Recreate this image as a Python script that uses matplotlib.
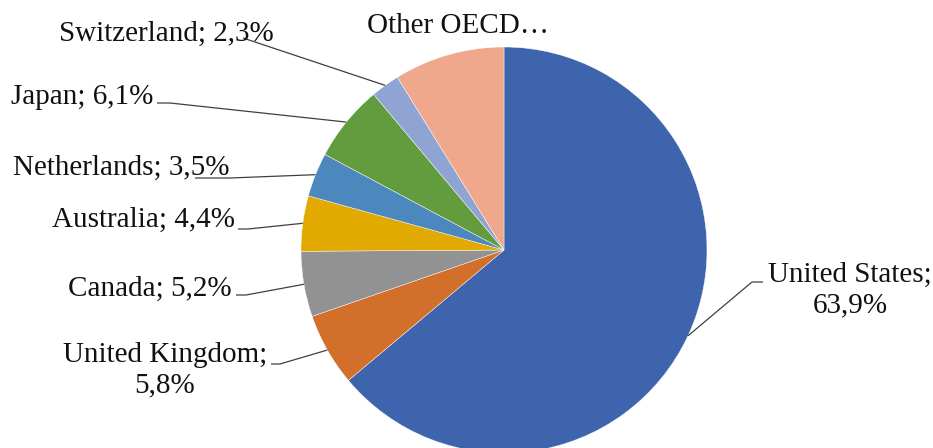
import numpy as np
import matplotlib
matplotlib.use("Agg")
import matplotlib.pyplot as plt

countries = ["United States", "United Kingdom", "Canada", "Australia",
             "Netherlands", "Japan", "Switzerland", "Other OECD"]
shares = [63.9, 5.8, 5.2, 4.4, 3.5, 6.1, 2.3, 8.8]
label_texts = ["United States;\n63,9%", "United Kingdom;\n5,8%", "Canada; 5,2%",
               "Australia; 4,4%", "Netherlands; 3,5%", "Japan; 6,1%",
               "Switzerland; 2,3%", "Other OECD…"]
colors = ["#3D64AD", "#D2702B", "#929292", "#E2AA00",
          "#4C88BE", "#639C3F", "#90A4D4", "#EFA88B"]

W, H = 933, 448
CX, CY, R = 504, 250, 203  # pie centre / radius in pixels


def px(x, y):
    # pixel position -> data units (pie radius = 1)
    return (x - CX) / R, (CY - y) / R


plt.rcParams['font.family'] = ['Liberation Serif', 'DejaVu Serif']

fig = plt.figure(figsize=(W / 100, H / 100), dpi=100)
ax = fig.add_axes([0, 0, 1, 1])
wedges, _ = ax.pie(shares, colors=colors, startangle=90, counterclock=False,
                   radius=1, center=(0, 0),
                   wedgeprops=dict(edgecolor="white", linewidth=0.3))
ax.set_xlim(-CX / R, (W - CX) / R)
ax.set_ylim(-(H - CY) / R, CY / R)
ax.set_aspect('equal')
ax.axis('off')

# label centre (px), leader start (px) with short horizontal tail, or None
label_pos = [
    ((850, 290), [(763, 282), (752, 282)]),
    ((165, 370), [(271, 364), (280, 364)]),
    ((150, 289), [(236, 295), (246, 295)]),
    ((143, 220), [(238, 229), (248, 229)]),
    ((121, 168), [(195, 178), (230, 178)]),
    ((82, 97), [(157, 103), (170, 103)]),
    ((166, 34), [(243, 38)]),
    ((458, 26), None),
]

for w, txt, (pos, lead) in zip(wedges, label_texts, label_pos):
    tx, ty = px(*pos)
    ax.text(tx, ty, txt, ha="center", va="center", fontsize=21,
            color="#111111", linespacing=1.2)
    if lead is None:
        continue
    mid = np.deg2rad((w.theta1 + w.theta2) / 2)
    pts = [px(*p) for p in lead] + [(np.cos(mid), np.sin(mid))]
    xs, ys = zip(*pts)
    ax.plot(xs, ys, color="#404040", lw=0.9, solid_capstyle="butt")

fig.savefig("out.png", dpi=100)
